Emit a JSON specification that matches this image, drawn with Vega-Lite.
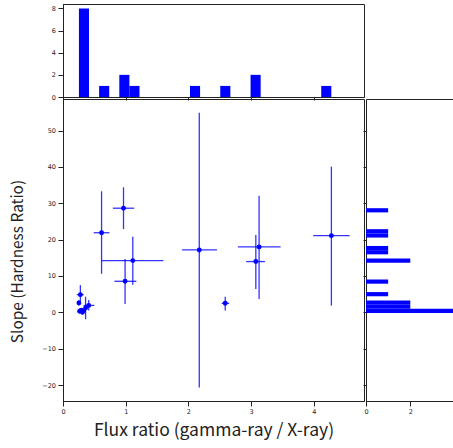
{
  "$schema": "https://vega.github.io/schema/vega-lite/v6.json",
  "padding": {"left": 10, "top": 3, "right": 0, "bottom": 5},
  "background": "white",
  "datasets": {
    "pts": [
      {"x": 0.615, "y": 21.9, "xlo": 0.49, "xhi": 0.74, "ylo": 10.6, "yhi": 33.3},
      {"x": 0.965, "y": 28.65, "xlo": 0.795, "xhi": 1.135, "ylo": 22.9, "yhi": 34.4},
      {"x": 1.113, "y": 14.24, "xlo": 0.615, "xhi": 1.6, "ylo": 7.6, "yhi": 20.8},
      {"x": 0.99, "y": 8.54, "xlo": 0.82, "xhi": 1.17, "ylo": 2.3, "yhi": 14.7},
      {"x": 2.173, "y": 17.16, "xlo": 1.9, "xhi": 2.455, "ylo": -20.66, "yhi": 54.9},
      {"x": 2.587, "y": 2.48, "xlo": 2.53, "xhi": 2.65, "ylo": 0.5, "yhi": 4.3},
      {"x": 3.075, "y": 13.97, "xlo": 2.92, "xhi": 3.22, "ylo": 6.4, "yhi": 21.3},
      {"x": 3.127, "y": 18.0, "xlo": 2.79, "xhi": 3.47, "ylo": 3.7, "yhi": 32.1},
      {"x": 4.28, "y": 21.1, "xlo": 3.99, "xhi": 4.57, "ylo": 1.85, "yhi": 40.1},
      {"x": 0.277, "y": 4.87, "xlo": 0.22, "xhi": 0.33, "ylo": 2.7, "yhi": 7.5},
      {"x": 0.254, "y": 2.6, "xlo": 0.23, "xhi": 0.28, "ylo": 1.8, "yhi": 3.4},
      {"x": 0.41, "y": 1.9, "xlo": 0.33, "xhi": 0.5, "ylo": 0.5, "yhi": 3.4},
      {"x": 0.36, "y": 1.2, "xlo": 0.33, "xhi": 0.39, "ylo": -1.9, "yhi": 4.3},
      {"x": 0.265, "y": 0.3, "xlo": 0.24, "xhi": 0.29, "ylo": -0.3, "yhi": 0.9},
      {"x": 0.31, "y": 0.0, "xlo": 0.28, "xhi": 0.34, "ylo": -0.6, "yhi": 0.6},
      {"x": 0.29, "y": 0.6, "xlo": 0.26, "xhi": 0.33, "ylo": 0.0, "yhi": 1.2},
      {"x": 0.33, "y": 0.4, "xlo": 0.3, "xhi": 0.36, "ylo": -0.2, "yhi": 1.0}
    ],
    "hx": [
      {"start": 0.254, "end": 0.415, "count": 8},
      {"start": 0.576, "end": 0.737, "count": 1},
      {"start": 0.898, "end": 1.059, "count": 2},
      {"start": 1.059, "end": 1.22, "count": 1},
      {"start": 2.025, "end": 2.186, "count": 1},
      {"start": 2.508, "end": 2.669, "count": 1},
      {"start": 2.991, "end": 3.152, "count": 2},
      {"start": 4.118, "end": 4.279, "count": 1}
    ],
    "hy": [
      {"start": -0.2, "end": 0.954, "count": 4},
      {"start": 0.954, "end": 2.108, "count": 2},
      {"start": 2.108, "end": 3.262, "count": 2},
      {"start": 4.416, "end": 5.57, "count": 1},
      {"start": 7.878, "end": 9.032, "count": 1},
      {"start": 13.648, "end": 14.802, "count": 2},
      {"start": 15.956, "end": 17.11, "count": 1},
      {"start": 17.11, "end": 18.264, "count": 1},
      {"start": 20.572, "end": 21.726, "count": 1},
      {"start": 21.726, "end": 22.88, "count": 1},
      {"start": 27.496, "end": 28.65, "count": 1}
    ]
  },
  "bounds": "flush",
  "spacing": 2,
  "vconcat": [
    {
      "width": 301,
      "height": 93,
      "data": {"name": "hx"},
      "mark": {"type": "rect", "color": "#0000ff"},
      "encoding": {
        "x": {"field": "start", "type": "quantitative", "scale": {"domain": [0, 4.8], "nice": false, "zero": false},
              "axis": {"values": [0, 1, 2, 3, 4], "labels": false, "title": null, "tickSize": 3}},
        "x2": {"field": "end"},
        "y": {"field": "count", "type": "quantitative", "scale": {"domain": [0, 8.4], "nice": false},
              "axis": {"values": [0, 2, 4, 6, 8], "format": "d", "title": null}},
        "y2": {"datum": 0}
      }
    },
    {
      "bounds": "flush",
      "spacing": 2,
      "hconcat": [
        {
          "width": 301,
          "height": 302,
          "data": {"name": "pts"},
          "layer": [
            {
              "mark": {"type": "rule", "color": "#0000ff", "opacity": 0.8, "strokeWidth": 1.3},
              "encoding": {
                "x": {"field": "xlo", "type": "quantitative", "scale": {"domain": [0, 4.8], "nice": false, "zero": false},
                      "axis": {"values": [0, 1, 2, 3, 4], "format": "d", "title": "Flux ratio (gamma-ray / X-ray)", "titleFontSize": 17.5, "titlePadding": 6}},
                "x2": {"field": "xhi"},
                "y": {"field": "y", "type": "quantitative", "scale": {"domain": [-24.4, 58.7], "nice": false, "zero": false},
                      "axis": {"values": [-20, -10, 0, 10, 20, 30, 40, 50], "format": "d", "title": "Slope (Hardness Ratio)", "titleFontSize": 15.4, "titlePadding": 16, "titleY": 162}}
              }
            },
            {
              "mark": {"type": "rule", "color": "#0000ff", "opacity": 0.8, "strokeWidth": 1.3},
              "encoding": {
                "x": {"field": "x", "type": "quantitative"},
                "y": {"field": "ylo", "type": "quantitative"},
                "y2": {"field": "yhi"}
              }
            },
            {
              "mark": {"type": "point", "filled": true, "color": "#0000ff", "opacity": 1, "size": 24},
              "encoding": {
                "x": {"field": "x", "type": "quantitative"},
                "y": {"field": "y", "type": "quantitative"}
              }
            }
          ]
        },
        {
          "width": 93,
          "height": 302,
          "data": {"name": "hy"},
          "mark": {"type": "rect", "color": "#0000ff"},
          "encoding": {
            "y": {"field": "start", "type": "quantitative", "scale": {"domain": [-24.4, 58.7], "nice": false, "zero": false},
                  "axis": {"values": [-20, -10, 0, 10, 20, 30, 40, 50], "labels": false, "title": null, "tickSize": 3}},
            "y2": {"field": "end"},
            "x": {"field": "count", "type": "quantitative", "scale": {"domain": [0, 4.2], "nice": false},
                  "axis": {"values": [0, 2, 4], "format": "d", "title": null}},
            "x2": {"datum": 0}
          }
        }
      ]
    }
  ],
  "config": {
    "view": {"stroke": "#222222", "strokeWidth": 1},
    "axis": {
      "grid": false,
      "domainColor": "#222222",
      "tickColor": "#222222",
      "tickSize": 5,
      "labelPadding": 2.5,
      "labelFont": "DejaVu Sans",
      "labelFontSize": 6.5,
      "labelColor": "#222222",
      "titleFont": "Noto Sans CJK JP",
      "titleFontSize": 16,
      "titleFontWeight": "normal",
      "titleColor": "#222222",
      "titlePadding": 8,
      "labelFlush": false,
      "labelOverlap": false
    }
  }
}
